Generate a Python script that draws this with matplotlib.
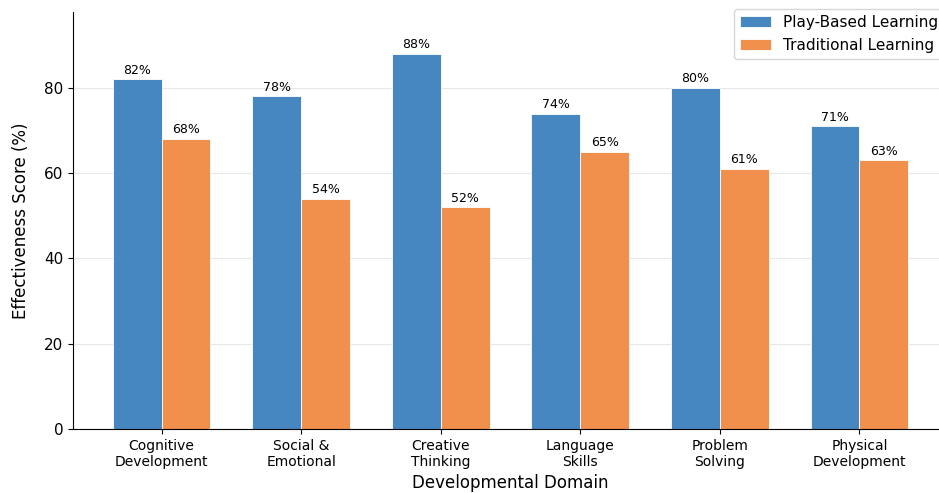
import numpy as np
import matplotlib.pyplot as plt

categories = ["Cognitive\nDevelopment", "Social &\nEmotional", "Creative\nThinking",
              "Language\nSkills", "Problem\nSolving", "Physical\nDevelopment"]
play_based = [82, 78, 88, 74, 80, 71]
traditional = [68, 54, 52, 65, 61, 63]

fig = plt.figure(figsize=(9.39, 4.93), dpi=100)
ax = fig.add_axes([0.0777, 0.1298, 0.932, 0.8458])

x = np.arange(len(categories))
w = 0.35
b1 = ax.bar(x - w / 2, play_based, w, color="#4787c1", edgecolor="white", linewidth=0.6,
            label="Play-Based Learning")
b2 = ax.bar(x + w / 2, traditional, w, color="#f18f4c", edgecolor="white", linewidth=0.6,
            label="Traditional Learning")

for bars in (b1, b2):
    for b in bars:
        ax.annotate(f"{b.get_height():.0f}%", (b.get_x() + b.get_width() / 2, b.get_height()),
                    xytext=(0, 2), textcoords="offset points", ha="center", va="bottom", fontsize=9)

ax.set_xticks(x)
ax.set_xticklabels(categories, fontsize=10)
ax.tick_params(axis="y", labelsize=11)
ax.set_ylim(0, 97.8)
ax.set_yticks([0, 20, 40, 60, 80])
ax.set_xlabel("Developmental Domain", fontsize=12)
ax.set_ylabel("Effectiveness Score (%)", fontsize=12, labelpad=10)
ax.grid(axis="y", color="#dddddd", alpha=0.7)
ax.set_axisbelow(True)
ax.spines["top"].set_visible(False)
ax.spines["right"].set_visible(False)
ax.legend(loc="upper right", fontsize=11, bbox_to_anchor=(1.004, 1.026))

fig.savefig("out.png", dpi=100)
